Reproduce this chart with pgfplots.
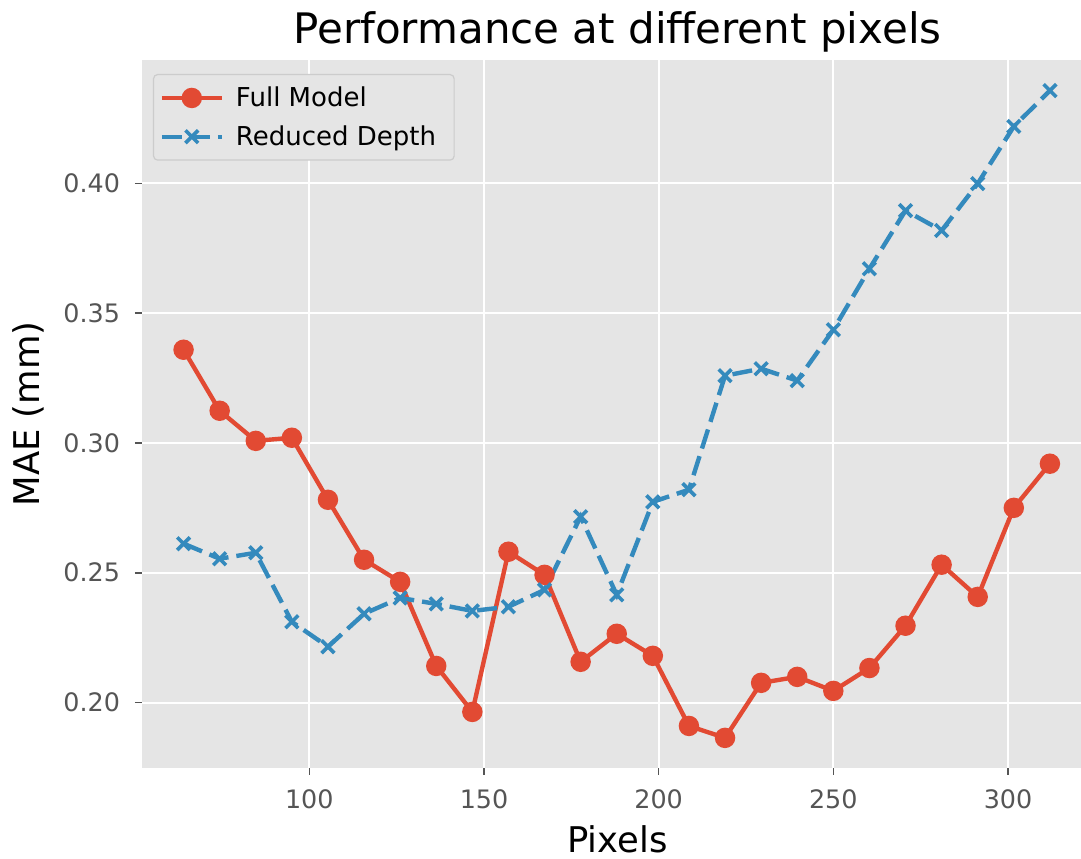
\documentclass[border=0pt]{standalone}
\usepackage{pgfplots}
\pgfplotsset{compat=1.18}
\usepackage{fontspec}
\setmainfont{DejaVu Sans}
\definecolor{bgcol}{HTML}{E5E5E5}
\definecolor{redc}{HTML}{E24A33}
\definecolor{bluec}{HTML}{348ABD}
\definecolor{tickc}{HTML}{555555}
\definecolor{legedge}{HTML}{CCCCCC}
\begin{document}
\begin{tikzpicture}
\begin{axis}[
  scale only axis,
  width=469.5pt, height=354pt,
  xmin=52.1, xmax=320.9,
  ymin=0.1748, ymax=0.4475,
  axis background/.style={fill=bgcol},
  axis line style={draw=none},
  grid=major,
  major grid style={white, line width=1pt},
  xtick={100,150,200,250,300},
  ytick={0.20,0.25,0.30,0.35,0.40},
  xtick pos=bottom, ytick pos=left,
  tick align=outside,
  major tick length=3.5pt,
  tick style={tickc, line width=0.8pt},
  /pgf/number format/assume math mode=true,
  yticklabel style={/pgf/number format/fixed, /pgf/number format/fixed zerofill, /pgf/number format/precision=2, xshift=-4pt},
  xticklabel style={yshift=-4pt},
  scaled y ticks=false,
  ticklabel style={font=\fontsize{12.7}{14}\selectfont, text=tickc},
  title={Performance at different pixels},
  title style={font=\fontsize{21}{24}\selectfont, yshift=-5.5pt, xshift=3pt},
  xlabel={Pixels},
  ylabel={MAE (mm)},
  xlabel style={yshift=-1.5pt, xshift=3pt},
  ylabel style={yshift=2.5pt},
  label style={font=\fontsize{17.7}{20}\selectfont},
  legend style={at={(rel axis cs:0,1)}, xshift=5.5pt, yshift=-7pt, anchor=north west,
    fill=bgcol, draw=legedge, rounded corners=2pt, line width=0.6pt,
    font=\fontsize{13}{15}\selectfont, row sep=4pt, inner xsep=3pt, inner ysep=4pt,
    nodes={inner xsep=6pt}},
  legend cell align=left,
  legend image code/.code={\draw[#1, mark repeat=2, mark phase=2] plot coordinates {(0pt,0pt) (15pt,0pt) (30pt,0pt)};},
]
\addplot[redc, line width=2.2pt, mark=*, mark size=4pt, mark options={solid, fill=redc, draw=redc}]
coordinates {
(64,0.3359) (74.333,0.3124) (84.667,0.3008) (95,0.3020) (105.333,0.2781)
(115.667,0.2550) (126,0.2465) (136.333,0.2141) (146.667,0.1964) (157,0.2581)
(167.333,0.2492) (177.667,0.2157) (188,0.2265) (198.333,0.2180) (208.667,0.1910)
(219,0.1864) (229.333,0.2076) (239.667,0.2099) (250,0.2045) (260.333,0.2133)
(270.667,0.2296) (281,0.2531) (291.333,0.2407) (301.667,0.2750) (312,0.2920)
};
\addlegendentry{Full Model}
\addplot[bluec, line width=2.2pt, dash pattern=on 10pt off 4pt, mark=x, mark size=4.5pt, mark options={solid, line width=1.8pt}]
coordinates {
(64,0.2612) (74.333,0.2554) (84.667,0.2577) (95,0.2311) (105.333,0.2215)
(115.667,0.2342) (126,0.2403) (136.333,0.2380) (146.667,0.2353) (157,0.2369)
(167.333,0.2434) (177.667,0.2716) (188,0.2415) (198.333,0.2773) (208.667,0.2820)
(219,0.3259) (229.333,0.3286) (239.667,0.3240) (250,0.3436) (260.333,0.3671)
(270.667,0.3895) (281,0.3818) (291.333,0.3999) (301.667,0.4219) (312,0.4357)
};
\addlegendentry{Reduced Depth}
\end{axis}
\pgfresetboundingbox
\path[use as bounding box] ([xshift=-71pt,yshift=-45.5pt]current axis.south west) rectangle ([yshift=30pt]current axis.north east);
\end{tikzpicture}
\end{document}
